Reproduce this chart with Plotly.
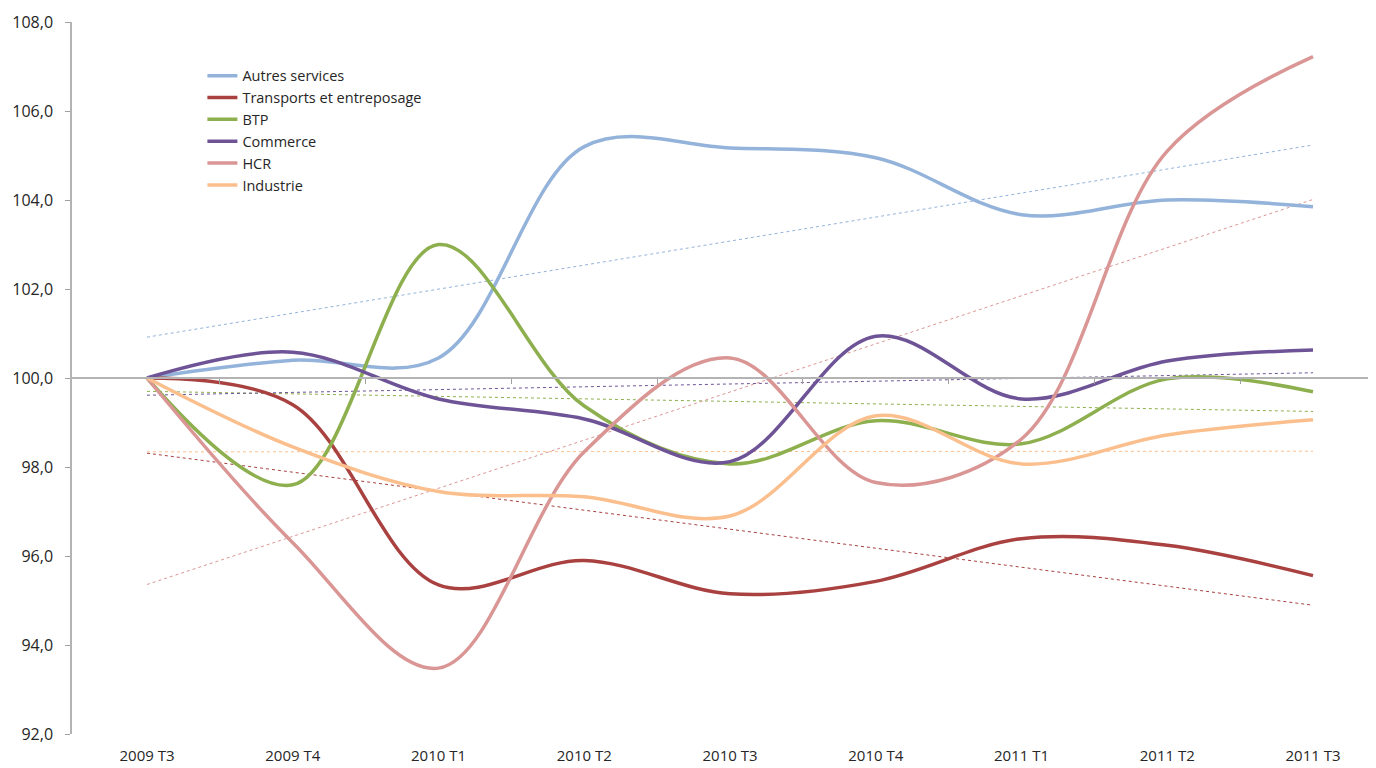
import numpy as np
import plotly.graph_objects as go

categories = ["2009 T3", "2009 T4", "2010 T1", "2010 T2", "2010 T3",
              "2010 T4", "2011 T1", "2011 T2", "2011 T3"]

autres_services = [100.0, 100.4, 100.45, 105.2, 105.17, 104.95, 103.67, 104.0, 103.85]
transports = [100.0, 99.4, 95.35, 95.9, 95.15, 95.43, 96.39, 96.24, 95.56]
btp = [100.0, 97.6, 103.0, 99.37, 98.07, 99.04, 98.52, 99.98, 99.69]
commerce = [100.0, 100.58, 99.53, 99.08, 98.12, 100.94, 99.53, 100.38, 100.63]
hcr = [100.0, 96.3, 93.48, 98.34, 100.45, 97.65, 98.63, 105.1, 107.22]
industrie = [100.0, 98.45, 97.45, 97.33, 96.9, 99.15, 98.07, 98.72, 99.06]

series_names = ["Autres services", "Transports et entreposage", "BTP",
                "Commerce", "HCR", "Industrie"]
series_values = [autres_services, transports, btp, commerce, hcr, industrie]
colors = ["#93B3DA", "#A8413F", "#8DAF4E", "#6E5497", "#D99694", "#FBBF8E"]

y_ticks = [92, 94, 96, 98, 100, 102, 104, 106, 108]

FONT = "Open Sans"
TXT = "#262626"
fig = go.Figure()

idx = np.arange(len(categories))
# trend lines (linear regressions)
for name, vals, col in zip(series_names, series_values, colors):
    slope, intercept = np.polyfit(idx, vals, 1)
    fig.add_trace(go.Scatter(
        x=[categories[0], categories[-1]],
        y=[intercept, intercept + slope * idx[-1]],
        mode="lines", line=dict(color=col, width=1, dash="3px,3px"),
        showlegend=False, hoverinfo="skip"))

for name, vals, col in zip(series_names, series_values, colors):
    fig.add_trace(go.Scatter(
        x=categories, y=vals, name=name, mode="lines",
        line=dict(color=col, width=3.5, shape="spline", smoothing=1.0)))

n = len(categories)
spacing = 145.75
left = 64
W, H = 1368, 760
plot_w = W - left
x0 = -(139 - left) / spacing
x_range = [x0, x0 + plot_w / spacing]

fig.update_layout(
    width=W, height=H,
    margin=dict(l=left, r=0, t=14, b=34),
    paper_bgcolor="white", plot_bgcolor="white",
    separators=", ",
    font=dict(family=FONT, size=16, color=TXT),
    showlegend=True,
    legend=dict(x=0.1, y=0.947, xanchor="left", yanchor="top",
                bgcolor="rgba(0,0,0,0)", font=dict(size=14.5, color=TXT),
                tracegroupgap=0, itemwidth=30),
    xaxis=dict(type="category", categoryorder="array", categoryarray=categories,
               range=x_range, showgrid=False, zeroline=False, showline=False,
               automargin=False,
               ticks="outside", ticklen=8, tickcolor="rgba(0,0,0,0)",
               tickfont=dict(size=15, color=TXT)),
    xaxis2=dict(overlaying="x", anchor="free", position=(100 - 92) / 16,
                type="linear", range=x_range, showgrid=False, zeroline=False,
                showline=True, linecolor="#B3B3B3", linewidth=1.5,
                ticks="outside", ticklen=5, tickcolor="#A0A0A0",
                tickvals=[i + 0.5 for i in range(n - 1)],
                showticklabels=False),
    yaxis=dict(range=[92, 108], tickvals=y_ticks, tickformat=".1f",
               showgrid=False, zeroline=False, showline=True,
               automargin=False,
               linecolor="#B3B3B3", linewidth=1.5,
               ticks="outside", ticklen=5, tickcolor="#A0A0A0",
               ticklabelstandoff=9,
               tickfont=dict(size=16, color=TXT)),
)
# invisible trace to activate the crossing axis at 100
fig.add_trace(go.Scatter(x=[0], y=[100], xaxis="x2", mode="markers",
                         marker=dict(opacity=0), showlegend=False,
                         hoverinfo="skip"))

fig.write_html("out.html")
